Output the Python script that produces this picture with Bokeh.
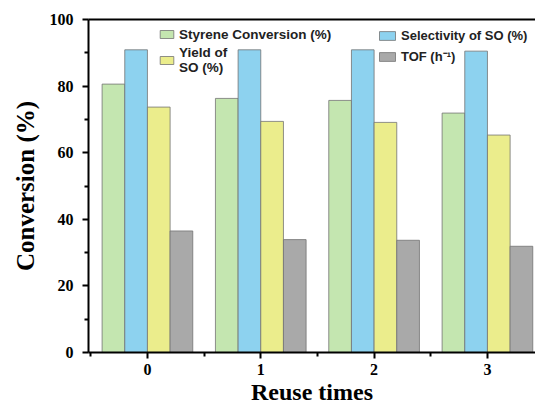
from bokeh.plotting import figure
from bokeh.models import (ColumnDataSource, Range1d, FixedTicker, LinearAxis,
                          Legend, LegendItem)
from bokeh.transform import dodge
from bokeh.embed import file_html
from bokeh.resources import INLINE

reuse = [0, 1, 2, 3]
tick_labels = ["0", "1", "2", "3"]
styrene_conv = [80.6, 76.3, 75.7, 71.9]
selectivity = [90.9, 90.9, 90.9, 90.5]
yield_so = [73.7, 69.4, 69.1, 65.3]
tof = [36.5, 33.9, 33.7, 31.9]

src = ColumnDataSource(dict(x=reuse, conv=styrene_conv, sel=selectivity,
                            yld=yield_so, tof=tof))

x0, x1 = -0.52, 3.424
p = figure(width=535, height=409, output_backend="svg", toolbar_location=None,
           x_range=Range1d(x0, x1), y_range=Range1d(0, 100),
           min_border_left=88, min_border_right=0, min_border_top=19,
           min_border_bottom=57)
p.outline_line_color = None
p.grid.visible = False
p.background_fill_color = "white"

colors = ["#c4e6b0", "#8dd2ef", "#ebed8c", "#a9a9a9"]
fields = ["conv", "sel", "yld", "tof"]
offsets = [-0.3, -0.1, 0.1, 0.3]
renderers = []
for f, c, o in zip(fields, colors, offsets):
    r = p.vbar(x=dodge("x", o, range=p.x_range), top=f, width=0.2, bottom=0,
               source=src, fill_color=c, line_color="#737373", line_width=0.8)
    renderers.append(r)

serif = "Liberation Serif"
for ax in (p.xaxis[0], p.yaxis[0]):
    ax.axis_line_width = 2
    ax.axis_line_color = "black"
    ax.major_tick_line_width = 2
    ax.minor_tick_line_width = 2
    ax.major_tick_in = 0
    ax.major_tick_out = 6
    ax.minor_tick_in = 0
    ax.minor_tick_out = 4
    ax.major_label_text_font = serif
    ax.major_label_text_font_style = "bold"
    ax.major_label_text_font_size = "16px"
    ax.major_label_text_color = "black"
    ax.axis_label_text_font = serif
    ax.axis_label_text_font_style = "bold"
    ax.axis_label_text_color = "black"

p.xaxis[0].ticker = FixedTicker(ticks=reuse, minor_ticks=[-0.5, 0.5, 1.5, 2.5, 3.5])
p.xaxis[0].major_label_overrides = {float(v): t for v, t in zip(reuse, tick_labels)}
p.xaxis[0].major_label_standoff = 5
p.xaxis[0].axis_label = "Reuse times"
p.xaxis[0].axis_label_text_font_size = "24px"
p.xaxis[0].axis_label_standoff = 1

p.yaxis[0].ticker = FixedTicker(ticks=[0, 20, 40, 60, 80, 100],
                                minor_ticks=[10, 30, 50, 70, 90])
p.yaxis[0].axis_label = "Conversion (%)"
p.yaxis[0].axis_label_text_font_size = "25px"
p.yaxis[0].major_label_standoff = 9
p.yaxis[0].axis_label_standoff = 8

top = LinearAxis(ticker=FixedTicker(ticks=[]), major_label_text_font_size="0px",
                 axis_line_width=2, axis_line_color="black",
                 major_tick_line_color=None, minor_tick_line_color=None)
p.add_layout(top, "above")

def make_legend(items, loc, size, gw, gh, spacing):
    lg = Legend(items=items, location=loc, background_fill_alpha=0,
                border_line_color=None, padding=0, margin=0, spacing=spacing,
                glyph_width=gw, glyph_height=gh, label_standoff=4,
                label_height=16, label_text_font="Liberation Sans",
                label_text_font_style="bold", label_text_font_size=size,
                label_text_color="#222222", label_text_line_height=1.2)
    p.add_layout(lg, "center")

make_legend([LegendItem(label="Styrene Conversion (%)", renderers=[renderers[0]]),
             LegendItem(label="Yield of\nSO (%)", renderers=[renderers[2]])],
            (70, 277), "13.5px", 17, 10, 3)
make_legend([LegendItem(label="Selectivity of SO (%)", renderers=[renderers[1]]),
             LegendItem(label="TOF (h\u207b\u00b9)", renderers=[renderers[3]])],
            (289, 287), "13px", 20, 11, 4)

open("out.html", "w").write(file_html(p, INLINE))
